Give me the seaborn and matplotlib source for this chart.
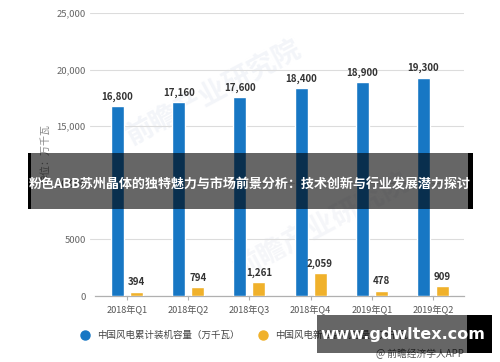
import matplotlib
matplotlib.use('Agg')
import matplotlib.pyplot as plt
import seaborn as sns
import pandas as pd
from matplotlib.patches import Rectangle
from matplotlib.lines import Line2D

quarters = ['2018年Q1', '2018年Q2', '2018年Q3', '2018年Q4', '2019年Q1', '2019年Q2']
cumulative = [16800, 17160, 17600, 18400, 18900, 19300]
new_added = [394, 794, 1261, 2059, 478, 909]
series_names = ['中国风电累计装机容量（万千瓦）', '中国风电新增装机容量（万千瓦）']
ytick_values = [0, 5000, 10000, 15000, 20000, 25000]
ytick_labels = ['0', '5000', '10,000', '15,000', '20,000', '25,000']
colors = ['#1777c4', '#f0b12b']
title = '粉色ABB苏州晶体的独特魅力与市场前景分析：技术创新与行业发展潜力探讨'
unit_label = '单位：万千瓦'
site = 'www.gdwltex.com'
source = '@ 前瞻经济学人APP'
watermark = '前瞻产业研究院'

sns.set_theme(style='white')
plt.rcParams['font.family'] = ['Noto Sans CJK SC', 'DejaVu Sans']

df = pd.DataFrame({
    'quarter': quarters * 2,
    'value': cumulative + new_added,
    'series': [series_names[0]] * len(quarters) + [series_names[1]] * len(quarters),
})

fig = plt.figure(figsize=(5, 3.62), dpi=100)
ax = fig.add_axes([0.18, 0.1823, 0.748, 0.7818])

# very faint watermark
ax.text(0.33, 0.72, watermark, transform=ax.transAxes, fontsize=20,
        color='#f3f5f9', rotation=28, ha='center', va='center', zorder=0, fontweight='bold')
ax.text(0.62, 0.25, watermark, transform=ax.transAxes, fontsize=20,
        color='#f5f6f9', rotation=28, ha='center', va='center', zorder=0, fontweight='bold')

sns.barplot(data=df, x='quarter', y='value', hue='series', palette=colors,
            width=0.62, gap=0.32, saturation=1, errorbar=None, legend=False,
            ax=ax, zorder=3)

ax.set_ylim(0, 25000)
ax.set_xlim(-0.605, 5.507)
ax.set_yticks(ytick_values)
ax.set_yticklabels(ytick_labels)
ax.set_xlabel('')
ax.set_ylabel('')
ax.yaxis.grid(True, color='#dcdcdc', linewidth=0.8, zorder=0)
ax.set_axisbelow(True)
for s in ['top', 'right', 'left']:
    ax.spines[s].set_visible(False)
ax.spines['bottom'].set_color('#b0b0b0')
ax.spines['bottom'].set_linewidth(0.9)
ax.spines['bottom'].set_bounds(-0.52, 5.507)
ax.tick_params(axis='y', length=0, pad=3, labelsize=6.8, labelcolor='#666666')
ax.tick_params(axis='x', length=3, width=0.8, color='#b0b0b0', pad=4,
               labelsize=6.6, labelcolor='#555555', bottom=True)

for cont in ax.containers:
    labels = [f'{int(round(b.get_height())):,}' for b in cont]
    ax.bar_label(cont, labels=labels, padding=3, fontsize=7,
                 fontweight='bold', color='#333333', zorder=5)

fig.text(0.09, 0.575, unit_label, rotation=90, ha='center', va='center',
         fontsize=7.2, color='#888888')

# legend
for xc, xt, c, name in [(0.17, 0.194, colors[0], series_names[0]),
                        (0.526, 0.55, colors[1], series_names[1])]:
    fig.add_artist(Line2D([xc], [0.0746], marker='o', markersize=6.5, color=c,
                          linestyle='none', transform=fig.transFigure))
    fig.text(xt, 0.0746, name, ha='left', va='center', fontsize=6.8, color='#444444')

fig.text(0.84, 0.022, source, ha='center', va='center', fontsize=7, color='#555555')

# title band overlay
fig.add_artist(Rectangle((0.056, 0.4227), 0.89, 0.1547, transform=fig.transFigure,
                         facecolor='black', alpha=0.6, edgecolor='none', zorder=10))
fig.add_artist(Rectangle((0.056, 0.4227), 0.006, 0.1547, transform=fig.transFigure,
                         facecolor='black', edgecolor='none', zorder=10))
fig.add_artist(Rectangle((0.936, 0.4227), 0.010, 0.1547, transform=fig.transFigure,
                         facecolor='black', edgecolor='none', zorder=10))
fig.text(0.5, 0.489, title, ha='center', va='center', fontsize=9.4,
         fontweight='bold', color='white', zorder=11)

# site watermark box
fig.add_artist(Rectangle((0.634, 0.0249), 0.30, 0.105, transform=fig.transFigure,
                         facecolor='black', alpha=0.6, edgecolor='none', zorder=10))
fig.add_artist(Rectangle((0.934, 0.0249), 0.05, 0.105, transform=fig.transFigure,
                         facecolor='black', edgecolor='none', zorder=10))
fig.text(0.805, 0.077, site, ha='center', va='center', fontsize=11.5,
         fontweight='bold', color='white', family='DejaVu Sans', zorder=11)

fig.savefig('out.png', dpi=100)
